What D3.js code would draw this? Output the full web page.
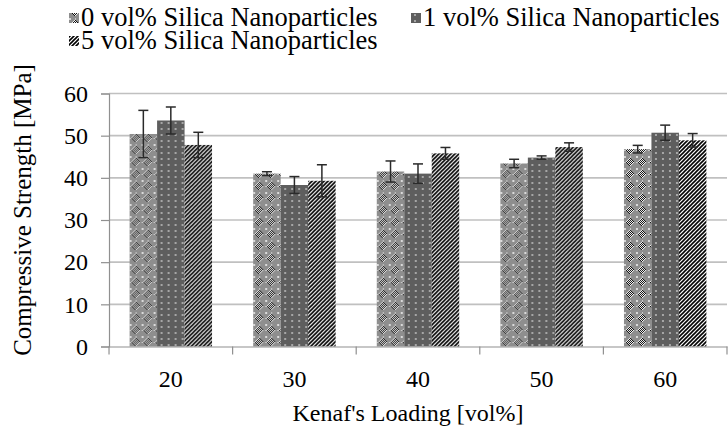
<!DOCTYPE html>
<html><head><meta charset="utf-8"><script src="https://cdn.jsdelivr.net/npm/d3@7"></script></head>
<body style="margin:0">
<svg id="s" width="728" height="427" style="display:block"></svg>
<script>
// ---- data ----
const categories = ["20", "30", "40", "50", "60"];
const seriesNames = ["0 vol% Silica Nanoparticles", "1 vol% Silica Nanoparticles", "5 vol% Silica Nanoparticles"];
const values0 = [50.4, 41.0, 41.5, 43.4, 46.8];
const values1 = [53.6, 38.3, 41.0, 44.8, 50.7];
const values5 = [47.8, 39.3, 45.8, 47.3, 48.9];
const errors0 = [5.6, 0.45, 2.5, 1.0, 0.9];
const errors1 = [3.2, 2.0, 2.3, 0.4, 1.8];
const errors5 = [3.0, 3.8, 1.4, 1.0, 1.6];
const yTicks = [0, 10, 20, 30, 40, 50, 60];
const xTitle = "Kenaf's Loading [vol%]";
const yTitle = "Compressive Strength [MPa]";

const seriesValues = [values0, values1, values5];
const seriesErrors = [errors0, errors1, errors5];
const fontNames = [["Liberation", "Serif"].join(" "), "Tinos", "FreeSerif"];
const FONT = d => fontNames.map(f => `"${f}"`).join(", ");

const svg = d3.select("#s");
const defs = svg.append("defs");

{
  const p = defs.append("pattern").attr("id", "pat0").attr("patternUnits", "userSpaceOnUse")
    .attr("width", 12).attr("height", 12);
  p.append("rect").attr("width", 12).attr("height", 12).attr("fill", "#8e8e8e");
  const cells = [];
  for (let yy = 0; yy < 12; yy++) for (let xx = 0; xx < 12; xx++) {
    const d = Math.abs(xx - 5.5) + Math.abs(yy - 5.5);
    if (d <= 4.5) cells.push({x: xx, y: yy, c: ((xx + yy) % 2 === 0) ? "#111" : "#f2f2f2"});
  }
  p.selectAll("rect.c").data(cells).enter().append("rect").attr("class", "c")
    .attr("x", d => d.x).attr("y", d => d.y).attr("width", 1).attr("height", 1).attr("fill", d => d.c);
  p.append("rect").attr("x", 0).attr("y", 0).attr("width", 2).attr("height", 2).attr("fill", "#dadada");
  p.append("rect").attr("x", 6).attr("y", 0).attr("width", 1).attr("height", 2).attr("fill", "#c8c8c8");
  p.append("rect").attr("x", 0).attr("y", 6).attr("width", 2).attr("height", 1).attr("fill", "#c8c8c8");
}
{
  const p = defs.append("pattern").attr("id", "pat1").attr("patternUnits", "userSpaceOnUse")
    .attr("width", 7).attr("height", 6);
  p.append("rect").attr("width", 7).attr("height", 6).attr("fill", "#5e5e5e");
  p.append("rect").attr("x", 3).attr("y", 2).attr("width", 2).attr("height", 2).attr("fill", "#a6a6a6");
}
{
  const p = defs.append("pattern").attr("id", "pat2").attr("patternUnits", "userSpaceOnUse")
    .attr("width", 4).attr("height", 4);
  p.append("rect").attr("width", 4).attr("height", 4).attr("fill", "#fff");
  p.append("path").attr("d", "M-1,1 l2,-2 M0,4 l4,-4 M3,5 l2,-2")
    .attr("stroke", "#000").attr("stroke-width", 1.6).attr("fill", "none");
}
const fills = ["url(#pat0)", "url(#pat1)", "url(#pat2)"];

const plotLeft = 109, plotRight = 727, plotTop = 93.5, plotBottom = 346.5;
const x = d3.scaleBand().domain(categories).range([plotLeft, plotRight])
  .paddingInner(0.333).paddingOuter(0.1667);
const xs = d3.scaleBand().domain(d3.range(3)).range([0, x.bandwidth()]);
const y = d3.scaleLinear().domain([0, 60]).range([plotBottom, plotTop]);

svg.append("g").selectAll("line").data(yTicks.filter(t => t > 0)).enter().append("line")
  .attr("x1", plotLeft).attr("x2", plotRight)
  .attr("y1", d => y(d)).attr("y2", d => y(d))
  .attr("stroke", "#c0c0c0").attr("stroke-width", 1.6);

const yAxis = svg.append("g").attr("transform", `translate(${plotLeft},0)`)
  .call(d3.axisLeft(y).tickValues(yTicks).tickSize(8).tickPadding(13).tickFormat(d3.format("d")));
yAxis.attr("font-family", null).attr("font-size", null);
yAxis.select(".domain").attr("stroke", "#909090").attr("stroke-width", 1.2);
yAxis.selectAll(".tick line").attr("stroke", "#909090").attr("stroke-width", 1.2);
yAxis.selectAll(".tick text").style("font-family", FONT).style("font-size", "24px").attr("fill", "#000");

const groups = svg.append("g").selectAll("g").data(categories).enter().append("g")
  .attr("transform", d => `translate(${x(d)},0)`);
groups.each(function(cat, ci) {
  const g = d3.select(this);
  const rows = seriesValues.map((vals, si) => ({si, v: vals[ci], e: seriesErrors[si][ci]}));
  g.selectAll("rect").data(rows).enter().append("rect")
    .attr("x", d => xs(d.si)).attr("width", xs.bandwidth())
    .attr("y", d => y(d.v)).attr("height", d => y(0) - y(d.v))
    .attr("fill", d => fills[d.si]);
  const eb = g.selectAll("g.err").data(rows).enter().append("g").attr("class", "err")
    .attr("stroke", "#2a2a2a").attr("stroke-width", 1.5);
  const cx = d => xs(d.si) + xs.bandwidth() / 2;
  eb.append("line").attr("x1", cx).attr("x2", cx)
    .attr("y1", d => y(d.v + d.e)).attr("y2", d => y(d.v - d.e));
  eb.append("line").attr("x1", d => cx(d) - 5).attr("x2", d => cx(d) + 5)
    .attr("y1", d => y(d.v + d.e)).attr("y2", d => y(d.v + d.e));
  eb.append("line").attr("x1", d => cx(d) - 5).attr("x2", d => cx(d) + 5)
    .attr("y1", d => y(d.v - d.e)).attr("y2", d => y(d.v - d.e));
});

const xAxis = svg.append("g").attr("transform", `translate(0,${plotBottom})`)
  .call(d3.axisBottom(x).tickSize(0).tickPadding(23));
xAxis.attr("font-family", null).attr("font-size", null);
xAxis.select(".domain").attr("stroke", "#909090").attr("stroke-width", 1.2);
xAxis.selectAll(".tick text").style("font-family", FONT).style("font-size", "24px").attr("fill", "#000");
const bounds = categories.map(c => x(c) - x.step() * x.paddingInner() / 2).concat([plotRight]);
svg.append("g").selectAll("line").data(bounds).enter().append("line")
  .attr("x1", d => d).attr("x2", d => d).attr("y1", plotBottom).attr("y2", plotBottom + 8)
  .attr("stroke", "#909090").attr("stroke-width", 1.2);

svg.append("text").attr("x", 408).attr("y", 421)
  .attr("text-anchor", "middle").style("font-family", FONT).style("font-size", "24px").attr("fill", "#000").text(xTitle);
svg.append("text").attr("transform", `translate(31,${210}) rotate(-90)`)
  .attr("text-anchor", "middle").style("font-family", FONT).style("font-size", "25px").attr("fill", "#000").text(yTitle);

const legendItems = [
  {i: 0, x: 69, y: 18},
  {i: 1, x: 411, y: 18},
  {i: 2, x: 69, y: 41}
];
const lg = svg.append("g").selectAll("g").data(legendItems).enter().append("g")
  .attr("transform", d => `translate(${d.x},${d.y})`);
lg.append("rect").attr("x", 0).attr("y", -5).attr("width", 10).attr("height", 10)
  .attr("fill", d => fills[d.i]);
lg.append("text").attr("x", 12).attr("y", 8).style("font-family", FONT).style("font-size", "26.5px")
  .attr("fill", "#000").text(d => seriesNames[d.i]);
</script>
</body>
</html>
